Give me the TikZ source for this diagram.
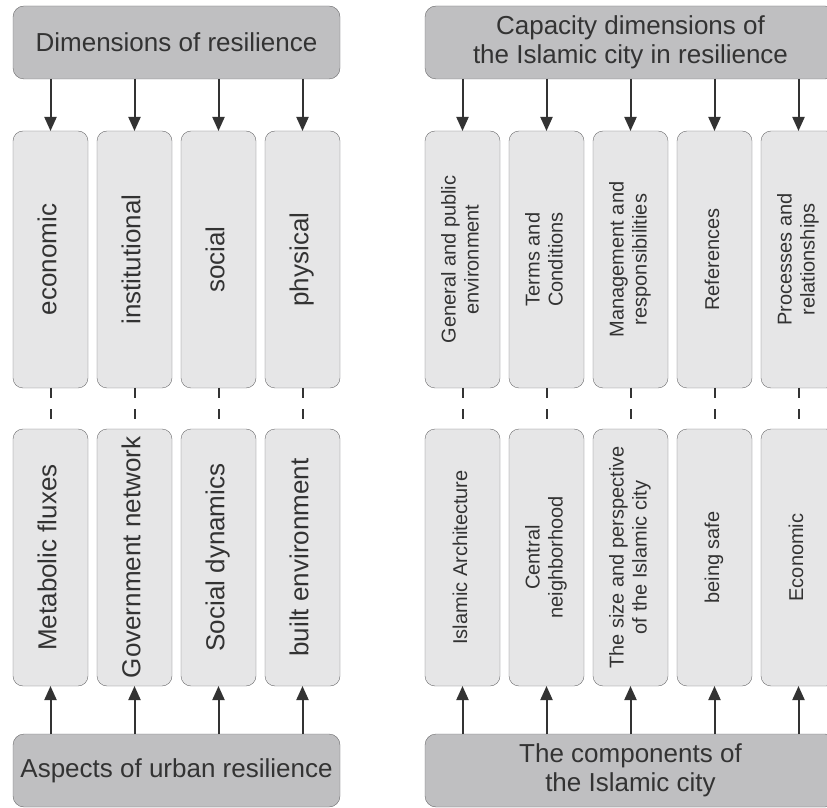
\documentclass[tikz,border=0pt]{standalone}
\usepackage{fontspec}
\setmainfont{Liberation Sans}
\usepackage{graphicx}
\usetikzlibrary{positioning,arrows.meta}

\definecolor{headgray}{HTML}{BFBFC1}
\definecolor{boxgray}{HTML}{E6E6E7}
\definecolor{edgegray}{HTML}{6A6A6C}
\definecolor{inkgray}{HTML}{333333}

% upright text turned to read from bottom to top
\newcommand{\vlabel}[1]{\rotatebox{90}{\begin{tabular}{@{}c@{}}#1\end{tabular}}}

\begin{document}
\begin{tikzpicture}[x=1pt, y=1pt,
			head/.style={rectangle, draw=edgegray, fill=headgray, rounded corners=11pt, minimum width=327pt, minimum height=73pt, inner sep=0pt, outer sep=0pt, align=center, text=inkgray, font=\fontsize{26}{29}\selectfont},
			col/.style={rectangle, draw=edgegray, fill=boxgray, rounded corners=10pt, minimum width=75pt, minimum height=257pt, inner sep=0pt, outer sep=0pt, text=inkgray, font=\fontsize{26}{29}\selectfont},
			colsm/.style={col, font=\fontsize{20}{23}\selectfont},
			arrow/.style={-{Triangle[length=14pt,width=12pt]}, line width=2pt, draw=inkgray},
			link/.style={line width=2pt, draw=inkgray, dash pattern=on 10pt off 11pt}
			]
			
			\path[use as bounding box, clip] (0,0) rectangle (827,807);
			
			% Dimensions of resilience: heading, two rows of columns, aspects below
			\node[head] (ldim) at (176.5,764.5) {Dimensions of resilience};
			\node[col, below right=52pt and 0pt of ldim.south west] (ld1) {\vlabel{economic}};
			\node[col, right=9pt of ld1] (ld2) {\vlabel{institutional}};
			\node[col, right=9pt of ld2] (ld3) {\vlabel{social}};
			\node[col, right=9pt of ld3] (ld4) {\vlabel{physical}};
			
			\node[col, below=41pt of ld1] (la1) {\vlabel{Metabolic fluxes}};
			\node[col, below=41pt of ld2] (la2) {\vlabel{Government network}};
			\node[col, below=41pt of ld3] (la3) {\vlabel{Social dynamics}};
			\node[col, below=41pt of ld4] (la4) {\vlabel{built environment}};
			
			\node[head, below right=48pt and 0pt of la1.south west] (lasp) {Aspects of urban resilience};
			
			% Capacity dimensions of the Islamic city (runs past the right edge)
			\node[head, minimum width=411pt, right=85pt of ldim] (rcap) {Capacity dimensions of\\the Islamic city in resilience};
			\node[colsm, below right=52pt and 0pt of rcap.south west] (rc1) {\vlabel{General and public\\environment}};
			\node[colsm, right=9pt of rc1] (rc2) {\vlabel{Terms and\\Conditions}};
			\node[colsm, right=9pt of rc2] (rc3) {\vlabel{Management and\\responsibilities}};
			\node[colsm, right=9pt of rc3] (rc4) {\vlabel{References}};
			\node[colsm, right=9pt of rc4] (rc5) {\vlabel{Processes and\\relationships}};
			
			\node[colsm, below=41pt of rc1] (rk1) {\vlabel{Islamic Architecture}};
			\node[colsm, below=41pt of rc2] (rk2) {\vlabel{Central\\neighborhood}};
			\node[colsm, below=41pt of rc3] (rk3) {\vlabel{The size and perspective\\of the Islamic city}};
			\node[colsm, below=41pt of rc4] (rk4) {\vlabel{being safe}};
			\node[colsm, below=41pt of rc5] (rk5) {\vlabel{Economic}};
			
			\node[head, minimum width=411pt, below right=48pt and 0pt of rk1.south west] (rcomp) {The components of\\the Islamic city};
			
			% Arrows down from the headings
			\draw[arrow] (ldim.south -| ld1.north) -- (ld1.north);
			\draw[arrow] (ldim.south -| ld2.north) -- (ld2.north);
			\draw[arrow] (ldim.south -| ld3.north) -- (ld3.north);
			\draw[arrow] (ldim.south -| ld4.north) -- (ld4.north);
			\draw[arrow] (rcap.south -| rc1.north) -- (rc1.north);
			\draw[arrow] (rcap.south -| rc2.north) -- (rc2.north);
			\draw[arrow] (rcap.south -| rc3.north) -- (rc3.north);
			\draw[arrow] (rcap.south -| rc4.north) -- (rc4.north);
			\draw[arrow] (rcap.south -| rc5.north) -- (rc5.north);
			
			% Dashed links between the two rows
			\draw[link] (ld1.south) -- (la1.north);
			\draw[link] (ld2.south) -- (la2.north);
			\draw[link] (ld3.south) -- (la3.north);
			\draw[link] (ld4.south) -- (la4.north);
			\draw[link] (rc1.south) -- (rk1.north);
			\draw[link] (rc2.south) -- (rk2.north);
			\draw[link] (rc3.south) -- (rk3.north);
			\draw[link] (rc4.south) -- (rk4.north);
			\draw[link] (rc5.south) -- (rk5.north);
			
			% Arrows up from the bottom headings
			\draw[arrow] (lasp.north -| la1.south) -- (la1.south);
			\draw[arrow] (lasp.north -| la2.south) -- (la2.south);
			\draw[arrow] (lasp.north -| la3.south) -- (la3.south);
			\draw[arrow] (lasp.north -| la4.south) -- (la4.south);
			\draw[arrow] (rcomp.north -| rk1.south) -- (rk1.south);
			\draw[arrow] (rcomp.north -| rk2.south) -- (rk2.south);
			\draw[arrow] (rcomp.north -| rk3.south) -- (rk3.south);
			\draw[arrow] (rcomp.north -| rk4.south) -- (rk4.south);
			\draw[arrow] (rcomp.north -| rk5.south) -- (rk5.south);
			
		\end{tikzpicture}
\end{document}
